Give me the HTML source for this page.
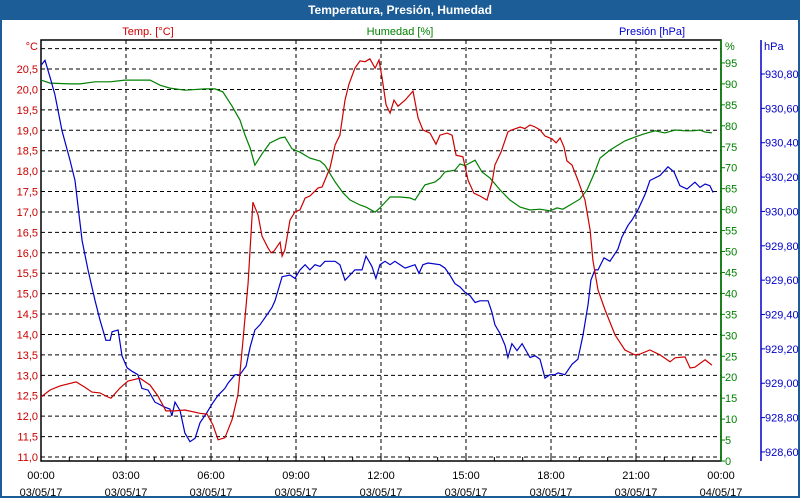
<!DOCTYPE html>
<html><head><meta charset="utf-8"><style>
body{margin:0;background:#fff;}
#wrap{position:relative;width:800px;height:500px;overflow:hidden;background:#fff;font-family:"Liberation Sans",sans-serif;}
#title{position:absolute;left:0;top:0;width:800px;height:20px;background:#1c5d97;color:#fff;font-weight:bold;font-size:12px;line-height:20px;text-align:center;}
#frame{position:absolute;left:0;top:20px;width:796px;height:476px;border:2px solid #1c5d97;border-top:none;}
svg{position:absolute;left:0;top:0;}
</style></head><body>
<div id="wrap">
<div id="title">Temperatura, Presión, Humedad</div>
<div id="frame"></div>
<svg id="chart" width="800" height="500" font-family="Liberation Sans, sans-serif" font-size="11"></svg>
</div>
<script>
const tempTimes=[0,.32,.67,1.24,1.55,1.80,2.08,2.36,2.47,2.79,3.07,3.49,3.85,4.13,4.41,4.73,5.08,5.61,5.86,6.07,6.25,6.49,6.74,6.95,7.13,7.31,7.48,7.66,7.80,8.01,8.12,8.22,8.44,8.51,8.61,8.79,8.96,9.14,9.32,9.49,9.78,9.92,10.20,10.38,10.55,10.73,10.87,11.08,11.26,11.44,11.61,11.79,11.93,12.04,12.18,12.32,12.46,12.60,12.85,13.13,13.31,13.48,13.73,13.94,14.08,14.33,14.51,14.65,14.89,15.07,15.28,15.49,15.74,15.92,16.02,16.24,16.48,16.62,16.91,17.08,17.26,17.44,17.61,17.79,18.04,18.18,18.32,18.46,18.56,18.74,18.95,19.20,19.38,19.48,19.66,19.91,20.26,20.61,20.96,21.14,21.49,21.85,22.20,22.38,22.73,22.91,23.08,23.44,23.68];
const tempValues=[12.47,12.64,12.74,12.84,12.71,12.59,12.57,12.47,12.44,12.69,12.86,12.93,12.76,12.49,12.13,12.13,12.15,12.07,12.05,11.78,11.42,11.47,11.91,12.52,13.86,15.26,17.24,16.93,16.41,16.12,16.0,16.04,16.26,15.92,16.07,16.80,17.00,17.05,17.34,17.39,17.59,17.61,18.08,18.64,18.88,19.74,20.13,20.52,20.70,20.68,20.75,20.52,20.72,20.28,19.62,19.42,19.74,19.59,19.74,19.96,19.30,19.01,18.93,18.66,18.88,18.93,18.88,18.39,18.35,17.78,17.46,17.39,17.29,17.73,18.15,18.47,18.96,19.01,19.08,19.04,19.13,19.08,19.01,18.86,18.79,18.69,18.81,18.59,18.25,18.15,17.78,17.29,16.56,15.82,15.09,14.60,13.99,13.62,13.50,13.52,13.62,13.50,13.33,13.43,13.45,13.18,13.20,13.38,13.25];
const humTimes=[0,.32,1.02,1.38,1.91,2.44,2.96,3.85,4.20,4.55,5.08,5.79,6.14,6.42,6.74,7.02,7.20,7.38,7.55,7.80,8.08,8.44,8.61,8.86,9.14,9.49,9.85,10.02,10.38,10.66,10.91,11.26,11.47,11.79,11.96,12.32,12.67,13.02,13.20,13.55,13.91,14.08,14.26,14.61,14.79,14.96,15.32,15.56,15.85,16.20,16.55,16.91,17.26,17.61,17.96,18.21,18.42,18.67,19.02,19.27,19.55,19.73,20.08,20.61,20.96,21.25,21.67,22.02,22.38,22.73,23.01,23.26,23.44,23.68];
const humValues=[90.9,90.2,90.0,90.0,90.5,90.5,90.9,90.9,89.7,89.0,88.5,88.8,88.8,88.1,84.7,81.4,77.8,74.7,70.6,73.3,75.9,77.1,77.3,74.5,73.7,72.3,71.6,70.6,66.6,64.0,62.3,61.1,60.6,59.4,60.4,63.0,63.0,62.8,62.3,65.9,66.6,67.5,69.0,69.4,70.9,70.5,71.8,69.0,67.5,64.7,62.3,60.6,59.9,60.1,59.7,60.4,60.1,61.1,62.5,64.7,69.0,72.3,74.2,76.4,77.3,78.0,78.8,78.3,79.0,78.8,78.8,79.0,78.5,78.3];
const presTimes=[0,.14,.32,.49,.74,1.02,1.20,1.45,1.66,1.91,2.08,2.29,2.44,2.51,2.72,2.86,3.04,3.21,3.42,3.56,3.78,4.02,4.38,4.55,4.62,4.73,4.91,5.08,5.26,5.44,5.61,5.86,6.04,6.25,6.49,6.60,6.85,7.02,7.24,7.38,7.55,7.73,7.94,8.15,8.26,8.51,8.79,8.96,9.14,9.32,9.49,9.67,9.85,10.02,10.38,10.55,10.73,10.91,11.08,11.33,11.47,11.68,11.82,11.96,12.14,12.32,12.49,12.67,12.85,13.20,13.34,13.48,13.66,14.08,14.26,14.43,14.61,14.79,14.96,15.14,15.32,15.49,15.78,15.92,16.02,16.20,16.38,16.48,16.62,16.80,16.98,17.26,17.44,17.61,17.79,17.96,18.14,18.25,18.49,18.74,18.95,19.13,19.31,19.41,19.55,19.66,19.87,20.08,20.36,20.50,20.72,20.86,21.07,21.32,21.49,21.85,22.13,22.34,22.55,22.80,23.08,23.26,23.44,23.61,23.72];
const presValues=[930.85,930.88,930.78,930.68,930.47,930.30,930.18,929.83,929.66,929.48,929.37,929.25,929.25,929.30,929.31,929.16,929.09,929.07,929.05,928.97,928.96,928.89,928.86,928.85,928.81,928.89,928.84,928.71,928.66,928.68,928.77,928.83,928.88,928.93,928.97,929.00,929.05,929.05,929.10,929.21,929.31,929.34,929.39,929.44,929.48,929.62,929.63,929.61,929.66,929.69,929.66,929.69,929.68,929.71,929.71,929.69,929.60,929.63,929.66,929.66,929.74,929.68,929.61,929.69,929.71,929.69,929.71,929.69,929.67,929.69,929.64,929.69,929.70,929.69,929.67,929.63,929.58,929.56,929.53,929.51,929.47,929.48,929.48,929.41,929.34,929.29,929.22,929.15,929.23,929.19,929.23,929.15,929.16,929.14,929.03,929.05,929.05,929.06,929.05,929.11,929.14,929.28,929.46,929.60,929.66,929.66,929.73,929.71,929.78,929.85,929.92,929.95,930.01,930.10,930.18,930.21,930.26,930.23,930.15,930.13,930.17,930.14,930.16,930.15,930.11];
const tempTicks=["11,0","11,5","12,0","12,5","13,0","13,5","14,0","14,5","15,0","15,5","16,0","16,5","17,0","17,5","18,0","18,5","19,0","19,5","20,0","20,5"];
const humTicks=["0","5","10","15","20","25","30","35","40","45","50","55","60","65","70","75","80","85","90","95"];
const presTicks=["928,60","928,80","929,00","929,20","929,40","929,60","929,80","930,00","930,20","930,40","930,60","930,80"];
const timeTicks=["00:00","03:00","06:00","09:00","12:00","15:00","18:00","21:00","00:00"];
const dateTicks=["03/05/17","03/05/17","03/05/17","03/05/17","03/05/17","03/05/17","03/05/17","03/05/17","04/05/17"];

const L=41,R=721,T=40,B=461;
const xS=h=>L+h*(R-L)/24;
const yT=v=>457-(v-11)*40.84;
const yH=v=>461-v*4.19;
const yP=v=>74+(930.8-v)*171.8;
const svg=document.getElementById('chart');
const NS='http://www.w3.org/2000/svg';
function mk(tag,attrs,parent){const e=document.createElementNS(NS,tag);for(const k in attrs)e.setAttribute(k,attrs[k]);(parent||svg).appendChild(e);return e;}

// grid
const grid=mk('g',{});


for(let i=0;i<=20;i++){const y=yT(11+i*0.5);const ln=mk('line',{x1:L,x2:R,y1:y,y2:y,stroke:'#000','stroke-dasharray':'4,3','stroke-width':1},grid);

}
for(let i=1;i<8;i++){const x=xS(i*3);const ln=mk('line',{x1:x,x2:x,y1:T,y2:B,stroke:'#000','stroke-dasharray':'4,3','stroke-width':1},grid);

}
// minor ticks
for(let i=1;i<24;i++){const x=xS(i);const ln=mk('line',{x1:x,x2:x,y1:B-4,y2:B,stroke:'#000'},grid);

}
// frame of plot
const pf=mk('rect',{x:L,y:T,width:R-L,height:B-T,fill:'none',stroke:'#000','stroke-width':1.5});


const ga=mk('line',{x1:R,x2:R,y1:T,y2:B,stroke:'#008000','stroke-width':1.5});


const ba=mk('line',{x1:761,x2:761,y1:T,y2:B,stroke:'#0000cc','stroke-width':1.5});



function txt(s,x,y,fill,anchor,name){const t=mk('text',{x:x,y:y,fill:fill,'text-anchor':anchor});t.textContent=s;

return t;}
tempTicks.forEach((s,i)=>txt(s,38,yT(11+i*0.5)+4,'#cc0000','end','temp-tick-label'));
txt('°C',38,50,'#cc0000','end','temp-axis-unit');
humTicks.forEach((s,i)=>{const y=yH(i*5);mk('line',{x1:R,x2:R+4,y1:y,y2:y,stroke:'#008000'});txt(s,R+4,y+4,'#008000','start','humidity-tick-label');});
txt('%',725,50,'#008000','start','humidity-axis-unit');
presTicks.forEach((s,i)=>{const y=yP(928.6+i*0.2);mk('line',{x1:761,x2:765,y1:y,y2:y,stroke:'#0000cc'});txt(s,765,y+4,'#0000cc','start','pressure-tick-label');});
txt('hPa',764,50,'#0000cc','start','pressure-axis-unit');
timeTicks.forEach((s,i)=>{const x=xS(i*3);txt(s,x,479,'#000','middle','x-time-label');txt(dateTicks[i],x,496,'#000','middle','x-date-label');});
txt('Temp. [°C]',148,35,'#cc0000','middle','temp-series-title');
txt('Humedad [%]',400,35,'#008000','middle','humidity-series-title');
txt('Presión [hPa]',652,35,'#0000cc','middle','pressure-series-title');

function line(times,vals,ys,color,name){const d=times.map((t,i)=>(i?'L':'M')+xS(t).toFixed(1)+','+ys(vals[i]).toFixed(1)).join('');
const p=mk('path',{d:d,fill:'none',stroke:color,'stroke-width':1.2});

}
line(humTimes,humValues,yH,'#008000','humidity-line');
line(presTimes,presValues,yP,'#0000cc','pressure-line');
line(tempTimes,tempValues,yT,'#cc0000','temperature-line');
</script>
</body></html>
